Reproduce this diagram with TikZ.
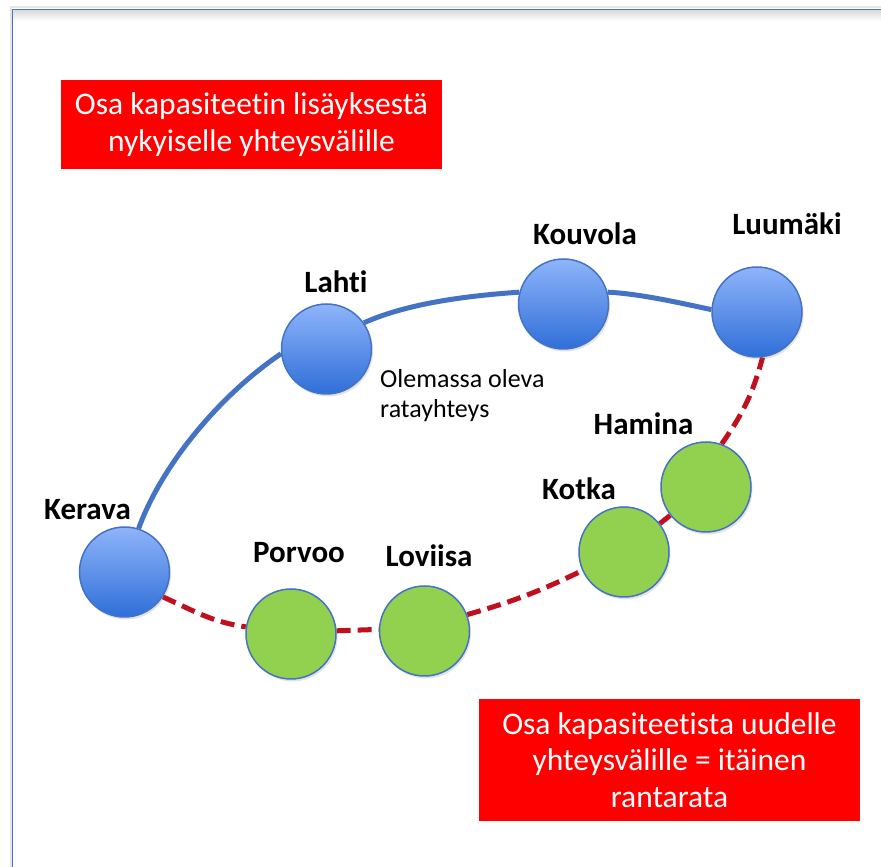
\documentclass[tikz,border=0pt]{standalone}
\usepackage{fontspec}
\setmainfont{Carlito}[Ligatures=NoCommon]
\usetikzlibrary{shadows,backgrounds}
\definecolor{lineblue}{RGB}{68,114,196}
\definecolor{railred}{RGB}{192,16,32}
\definecolor{stgreen}{RGB}{146,208,80}
\definecolor{toplight}{RGB}{143,180,250}
\definecolor{botdark}{RGB}{47,111,216}
\definecolor{boxred}{RGB}{255,0,0}
\begin{document}
\begin{tikzpicture}[x=1pt,y=1pt,
 station/.style={circle, minimum size=90pt, inner sep=0pt, draw=lineblue, line width=1.5pt,
   drop shadow={opacity=0.22, shadow xshift=1.5pt, shadow yshift=-2.5pt}},
 bluest/.style={station, top color=toplight, bottom color=botdark},
 greenst/.style={station, fill=stgreen},
 stlabel/.style={anchor=base, font=\fontsize{31}{36}\selectfont\bfseries, inner sep=0pt},
 existing/.style={draw=lineblue, line width=5pt},
 newline/.style={draw=railred, line width=5pt, dash pattern=on 14pt off 7pt},
 infobox/.style={fill=boxred, text=white, align=center, font=\fontsize{31.5}{36.5}\selectfont,
   inner sep=0pt, minimum width=381pt}]
\useasboundingbox (0,0) rectangle (881,867);
% frame
\shade[top color=black!14, bottom color=white] (13.5,846) rectangle (881,856.8);
\draw[black!10, line width=2pt] (10.5,0) -- (10.5,859.5) -- (881,859.5);
\draw[lineblue, line width=1.5pt] (12.5,0) -- (12.5,857.5) -- (881,857.5);
% stations
\node[bluest]  (kerava)  at (124.5,295) {};
\node[bluest]  (lahti)   at (326.5,518) {};
\node[bluest]  (kouvola) at (563.5,563) {};
\node[bluest]  (luumaki) at (757,555) {};
\node[greenst] (hamina)  at (706,380) {};
\node[greenst] (kotka)   at (624,315) {};
\node[greenst] (loviisa) at (424.5,236) {};
\node[greenst] (porvoo)  at (291,233) {};
% labels
\node[stlabel] (lkerava)  at (87.5,347) {Kerava};
\node[stlabel] (llahti)   at (336,574) {Lahti};
\node[stlabel] (lkouvola) at (585,622) {Kouvola};
\node[stlabel] (lluumaki) at (787,632) {Luumäki};
\node[stlabel] (lhamina)  at (643.5,432) {Hamina};
\node[stlabel] (lkotka)   at (579,367) {Kotka};
\node[stlabel] (lloviisa) at (429,300) {Loviisa};
\node[stlabel] (lporvoo)  at (299,304) {Porvoo};
\node[anchor=north west, align=left, inner sep=0pt, font=\fontsize{26}{30}\selectfont] (note)
  at (380,498) {Olemassa oleva\\ratayhteys};
% boxes
\node[infobox, minimum height=89pt] (box1) at (251.5,742.5) {Osa kapasiteetin lisäyksestä\\nykyiselle yhteysvälille};
\node[infobox, minimum height=122pt] (box2) at (669.5,107) {Osa kapasiteetista uudelle\\yhteysvälille = itäinen\\rantarata};
% connectors
\begin{scope}[on background layer]
\draw[existing] (kerava.72) to[out=70,in=214,looseness=0.8] (lahti.186);
\draw[existing] (lahti.35) to[out=24,in=184,looseness=0.8] (kouvola.165);
\draw[existing] (kouvola.15) to[out=-3,in=168,looseness=0.8] (luumaki.177);
\draw[newline] (kerava.-33) to[out=-24,in=172] (porvoo.171);
\draw[newline] (porvoo.4) -- (loviisa.178);
\draw[newline] (loviisa.21) to[out=16,in=206] (kotka.204);
\draw[newline] (kotka) -- (hamina);
\draw[newline] (hamina.70) to[out=55,in=-105] (luumaki.-83);
\end{scope}
\end{tikzpicture}
\end{document}
